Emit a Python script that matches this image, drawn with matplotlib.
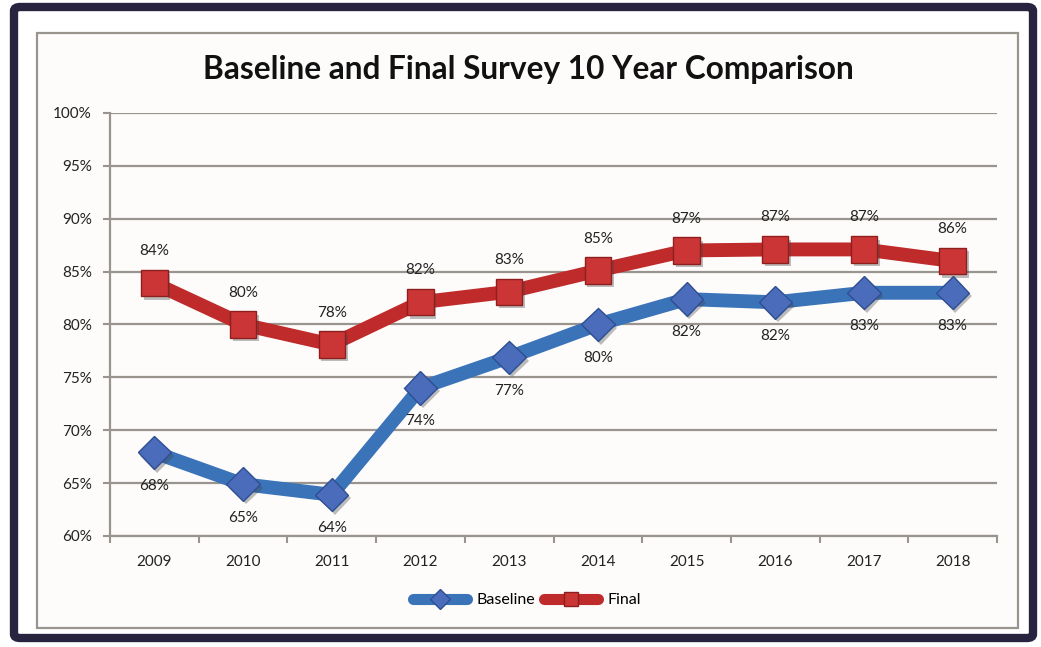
import numpy as np
import matplotlib
matplotlib.use("Agg")
import matplotlib.pyplot as plt
import matplotlib.patheffects as pe
from matplotlib.patches import Rectangle, FancyBboxPatch
from matplotlib.lines import Line2D

years = ["2009", "2010", "2011", "2012", "2013", "2014", "2015", "2016", "2017", "2018"]
baseline = [67.9, 64.9, 63.9, 74.0, 76.9, 80.0, 82.4, 82.1, 83.0, 83.0]
final = [83.9, 80.0, 78.1, 82.1, 83.1, 85.1, 87.0, 87.1, 87.1, 86.0]
baseline_labels = ["68%", "65%", "64%", "74%", "77%", "80%", "82%", "82%", "83%", "83%"]
final_labels = ["84%", "80%", "78%", "82%", "83%", "85%", "87%", "87%", "87%", "86%"]
yticks = [60, 65, 70, 75, 80, 85, 90, 95, 100]

plt.rcParams['font.family'] = ['Lato', 'DejaVu Sans']

fig = plt.figure(figsize=(10.41, 6.47), dpi=100)
W, H = 1041, 647

# outer dark frame and inner gray border
fig.patches.append(FancyBboxPatch((14 / W, 9 / H), 1019 / W, 631 / H,
                                  boxstyle="round,pad=0,rounding_size=0.006",
                                  transform=fig.transFigure, facecolor="white",
                                  edgecolor="#28233f", linewidth=6, zorder=-3))
fig.patches.append(Rectangle((37 / W, (H - 628) / H), 981 / W, 595 / H,
                             transform=fig.transFigure, facecolor="#fdfcfb",
                             edgecolor="#9a948e", linewidth=1.6, zorder=-2))

ax = fig.add_axes([110 / W, (H - 536) / H, 887 / W, 423 / H])
ax.set_facecolor("none")
x = np.arange(len(years))

shadow = [pe.SimplePatchShadow(offset=(2, -2.5), shadow_rgbFace="#444444", alpha=0.35), pe.Normal()]

blue, red = "#3b73b9", "#bf2a2a"
ax.plot(x, baseline, color=blue, linewidth=10, solid_capstyle="round",
        solid_joinstyle="round", zorder=3)
ax.plot(x, final, color=red, linewidth=10, solid_capstyle="round",
        solid_joinstyle="round", zorder=3)
ax.plot(x, baseline, linestyle="none", marker="D", markersize=17,
        markerfacecolor="#4a6cbb", markeredgecolor="#2e4f91", markeredgewidth=1,
        zorder=4, path_effects=shadow)
ax.plot(x, final, linestyle="none", marker="s", markersize=19,
        markerfacecolor="#cc3535", markeredgecolor="#8e1f1f", markeredgewidth=1,
        zorder=5, path_effects=shadow)

for xi, v, t in zip(x, final, final_labels):
    ax.annotate(t, (xi, v), xytext=(0, 23), textcoords="offset points",
                ha="center", va="center", fontsize=11, color="#222222", zorder=6)
for xi, v, t in zip(x, baseline, baseline_labels):
    ax.annotate(t, (xi, v), xytext=(0, -24), textcoords="offset points",
                ha="center", va="center", fontsize=11, color="#222222", zorder=6)

ax.set_xlim(-0.5, len(years) - 0.5)
ax.set_ylim(60, 100)
ax.set_yticks(yticks)
ax.set_yticklabels([f"{v}%" for v in yticks])
ax.set_xticks(x)
ax.set_xticklabels(years)
ax.set_xticks(np.arange(-0.5, len(years), 1), minor=True)
ax.tick_params(axis="x", which="major", length=0, pad=14, labelsize=11, labelcolor="#222222")
ax.tick_params(axis="x", which="minor", length=5, width=1.5, color="#9a948e", direction="out")
ax.tick_params(axis="y", length=5, width=1.5, color="#9a948e", pad=8, labelsize=11, labelcolor="#222222")
ax.grid(axis="y", color="#9a948e", linewidth=1.6, zorder=0)
ax.set_axisbelow(True)
for s in ["top", "right"]:
    ax.spines[s].set_visible(False)
for s in ["left", "bottom"]:
    ax.spines[s].set_color("#9a948e")
    ax.spines[s].set_linewidth(1.6)

fig.text(528 / W, (H - 70) / H, "Baseline and Final Survey 10 Year Comparison",
         ha="center", va="center", fontsize=22.8, fontweight="bold", color="#111111")

handles = [
    Line2D([], [], color=blue, linewidth=8, solid_capstyle="round", marker="D",
           markersize=10, markerfacecolor="#4a6cbb", markeredgecolor="#2e4f91", label="Baseline"),
    Line2D([], [], color=red, linewidth=8, solid_capstyle="round", marker="s",
           markersize=10, markerfacecolor="#cc3535", markeredgecolor="#8e1f1f", label="Final"),
]
fig.legend(handles=handles, loc="center", bbox_to_anchor=(527 / W, (H - 600) / H),
           ncol=2, frameon=False, fontsize=11.5, handlelength=3.4, handletextpad=0.6,
           columnspacing=0.5)

fig.savefig("out.png", dpi=100)
